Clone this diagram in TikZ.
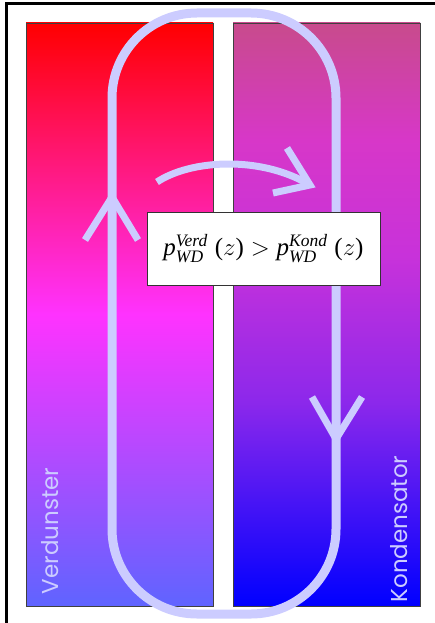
\documentclass[tikz,border=0pt]{standalone}
\usepackage{amsmath}
\usepackage{fontspec}
\setmainfont{Liberation Serif}
\newfontfamily\labelfont{Poppins}

\definecolor{loopcol}{RGB}{204,204,255}
\definecolor{verdtop}{RGB}{255,0,0}
\definecolor{verdmid}{RGB}{255,50,255}
\definecolor{verdbot}{RGB}{95,100,255}
\definecolor{kondtop}{RGB}{200,75,140}
\definecolor{kondup}{RGB}{215,55,200}
\definecolor{kondmid}{RGB}{200,50,218}
\definecolor{konddown}{RGB}{140,40,235}
\definecolor{kondbot}{RGB}{0,0,255}

% the path is fitted to the middle half (25bp..75bp) of a shading
\pgfdeclareverticalshading{verdshade}{100bp}{color(0bp)=(verdbot); color(25bp)=(verdbot); color(50bp)=(verdmid); color(75bp)=(verdtop); color(100bp)=(verdtop)}
\pgfdeclareverticalshading{kondshade}{100bp}{color(0bp)=(kondbot); color(25bp)=(kondbot); color(42.5bp)=(konddown); color(55bp)=(kondmid); color(65bp)=(kondup); color(75bp)=(kondtop); color(100bp)=(kondtop)}

\begin{document}
\begin{tikzpicture}[x=1pt,y=-1pt,
	panel/.style={draw=black!75, line width=0.8pt},
	flow/.style={draw=loopcol, line width=9pt},
	head/.style={draw=loopcol, line width=7pt},
	side/.style={rotate=90, text=loopcol, font=\labelfont\fontsize{23}{25}\selectfont}]
	\useasboundingbox (0,0) rectangle (435,623);
	\draw[line width=3pt] (6,623) -- (6,4) -- (435,4);
	% two panels
	\shadedraw[shading=verdshade, panel] (26,23) rectangle (213,606);
	\shadedraw[shading=kondshade, panel] (233,23) rectangle (420,606);
	\node[side] (verd) at (50,531) {Verdunster};
	\node[side] (kond) at (399,529) {Kondensator};
	% circulation
	\draw[flow, rounded corners=85pt] (112,13) rectangle (336,614);
	\draw[head] (85,240) -- (112,197) -- (138,240);
	\draw[head] (312,397) -- (336,439) -- (362,397);
	\draw[head] (157,182) .. controls (190,160) and (260,155) .. (310,185);
	\draw[head] (287,148) -- (310,185) -- (273,193);
	\node[draw=black!80, fill=white, line width=0.8pt, minimum width=233pt, minimum height=73pt, font=\fontsize{25}{29}\selectfont] (cond) at (263.5,248.5)
		{$\textit{p}^{\textit{Verd}}_{\textit{WD}}\;\text{(}z\text{)} > \textit{p}^{\textit{Kond}}_{\textit{WD}}\;\text{(}z\text{)}$};
\end{tikzpicture}
\end{document}
